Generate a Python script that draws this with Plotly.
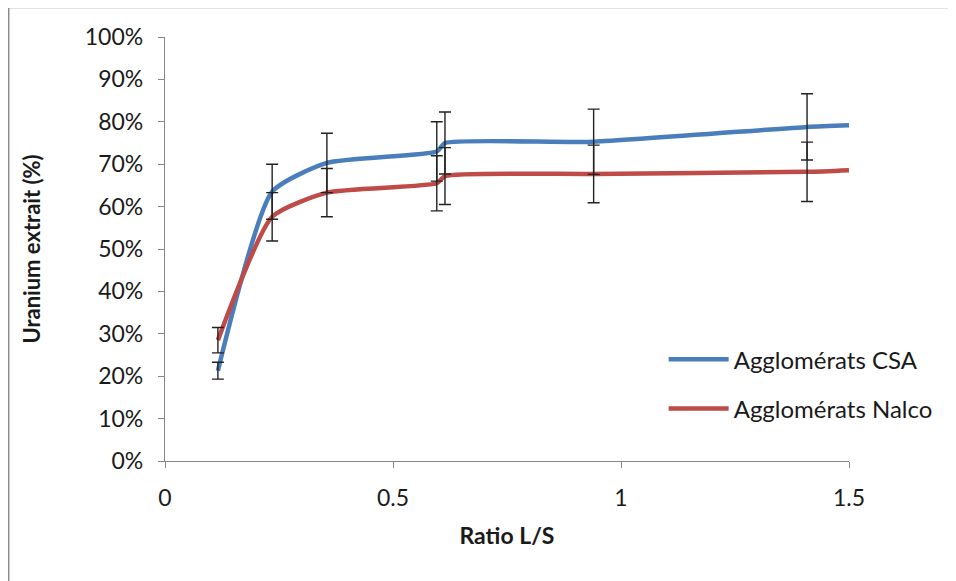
import plotly.graph_objects as go

# ---- data ----
ratio_ls = [0.116, 0.235, 0.355, 0.596, 0.614, 0.94, 1.408, 1.5]
csa_pct = [21.3, 63.5, 70.3, 73.0, 75.0, 75.3, 78.8, 79.2]
nalco_pct = [28.5, 57.6, 63.3, 65.5, 67.2, 67.7, 68.2, 68.6]

# error bars exist only at measured points (all but the last)
err_ratio = [0.116, 0.235, 0.355, 0.596, 0.614, 0.94, 1.408]
csa_err = [2.0, 6.5, 7.0, 7.0, 7.3, 7.7, 7.8]
nalco_err = [3.0, 5.7, 5.7, 6.5, 6.7, 6.8, 7.0]

series_names = ["Agglomérats CSA", "Agglomérats Nalco"]
y_ticks = [0, 10, 20, 30, 40, 50, 60, 70, 80, 90, 100]
y_labels = [f"{v}%" for v in y_ticks]
x_ticks = [0, 0.5, 1, 1.5]
x_labels = ["0", "0.5", "1", "1.5"]

BLUE = "#4A7EBB"
RED = "#BE4B48"
FONT = "Lato"

fig = go.Figure()

for name, vals, col, grp in [
    (series_names[0], csa_pct, BLUE, "g1"),
    (series_names[1], nalco_pct, RED, "g2"),
]:
    fig.add_trace(go.Scatter(
        x=ratio_ls, y=vals, mode="lines", name=name,
        line=dict(color=col, width=4.5, shape="spline", smoothing=0.55),
        legendgroup=grp,
    ))

for vals, errs in [(csa_pct, csa_err), (nalco_pct, nalco_err)]:
    fig.add_trace(go.Scatter(
        x=err_ratio, y=vals[:len(err_ratio)], mode="markers",
        marker=dict(size=1, color="rgba(0,0,0,0)"),
        error_y=dict(type="data", array=errs, visible=True,
                     color="#222222", thickness=1.4, width=6),
        showlegend=False, hoverinfo="skip",
    ))

fig.add_shape(type="rect", xref="paper", yref="paper",
              x0=-0.2285, y0=-0.35, x1=1.2, y1=1.0695,
              line=dict(color="#8c8c8c", width=1.5), layer="below")

fig.update_layout(
    width=956, height=581,
    margin=dict(l=157, r=115, t=29, b=128),
    paper_bgcolor="white", plot_bgcolor="white",
    font=dict(family=FONT, size=23, color="#1a1a1a"),
    showlegend=True,
    legend=dict(x=0.729, y=0.181, xanchor="left", yanchor="middle",
                bgcolor="rgba(0,0,0,0)", tracegroupgap=15, itemwidth=60,
                font=dict(family=FONT, size=24, color="#1a1a1a")),
    xaxis=dict(
        range=[0, 1.5], tickvals=x_ticks, ticktext=x_labels,
        showgrid=False, zeroline=False, showline=True,
        linecolor="#868686", linewidth=1.3,
        ticks="outside", ticklen=6, tickcolor="#868686",
        ticklabelstandoff=10,
        title=dict(text="<b>Ratio L/S</b>", font=dict(size=23), standoff=18),
    ),
    yaxis=dict(
        range=[0, 100], tickvals=y_ticks, ticktext=y_labels,
        showgrid=False, zeroline=False, showline=True,
        linecolor="#868686", linewidth=1.3,
        ticks="outside", ticklen=6, tickcolor="#868686",
        ticklabelstandoff=10,
        title=dict(text="<b>Uranium extrait (%)</b>", font=dict(size=22), standoff=38),
    ),
)

fig.write_html("out.html")
